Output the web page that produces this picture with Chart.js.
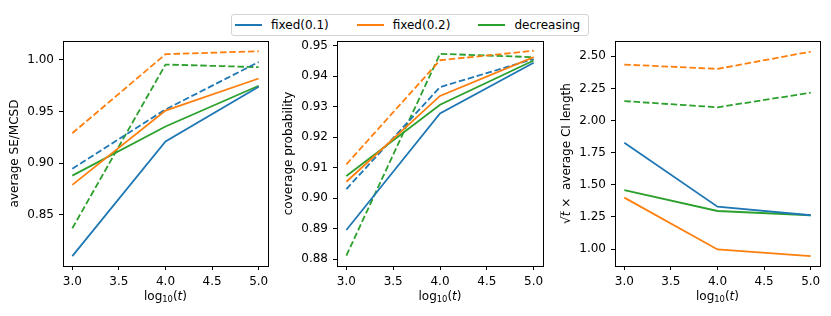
<!DOCTYPE html>
<html>
<head>
<meta charset="utf-8">
<script src="https://cdn.jsdelivr.net/npm/chart.js@4.4.1/dist/chart.umd.min.js"></script>
<style>
  body { margin: 0; background: #fff; width: 831px; height: 316px; position: relative; overflow: hidden; font-family: "DejaVu Sans", sans-serif; }
  .panel { position: absolute; top: 0; height: 316px; }
  #legend { position: absolute; left: 231px; top: 14px; width: 356px; height: 20px; border: 1px solid #d4d4d4; border-radius: 3px; font-size: 12px; background: #fff; }
  .item { position: absolute; top: 0; height: 20px; line-height: 20px; white-space: nowrap; color: #000; }
  .swatch { display: inline-block; width: 27px; height: 0; border-top: 2px solid; vertical-align: middle; margin-right: 9px; position: relative; top: -1px; }
</style>
</head>
<body>
<div id="legend"></div>
<canvas id="c1" class="panel" style="left:0px" width="280" height="316"></canvas>
<canvas id="c2" class="panel" style="left:280px" width="280" height="316"></canvas>
<canvas id="c3" class="panel" style="left:560px" width="271" height="316"></canvas>
<script>
const logT = [3.0, 4.0, 5.0];
const xTicks = [3.0, 3.5, 4.0, 4.5, 5.0];
const seriesNames = ["fixed(0.1)", "fixed(0.2)", "decreasing"];
const seriesColors = ["#1f77b4", "#ff7f0e", "#2ca02c"];

// left panel: average SE / MCSD (solid and dashed variants)
const seFixed01 = [0.810, 0.921, 0.974];
const seFixed02 = [0.879, 0.951, 0.982];
const seDecr = [0.888, 0.9355, 0.975];
const seFixed01Dash = [0.8946, 0.952, 0.998];
const seFixed02Dash = [0.929, 1.0055, 1.0084];
const seDecrDash = [0.837, 0.9955, 0.993];
const seTicks = [0.85, 0.90, 0.95, 1.00];

// middle panel: coverage probability
const covFixed01 = [0.8896, 0.9278, 0.9444];
const covFixed02 = [0.9054, 0.9335, 0.9462];
const covDecr = [0.9073, 0.9306, 0.9451];
const covFixed01Dash = [0.903, 0.9364, 0.9456];
const covFixed02Dash = [0.9111, 0.9452, 0.9483];
const covDecrDash = [0.8812, 0.9473, 0.9462];
const covTicks = [0.88, 0.89, 0.90, 0.91, 0.92, 0.93, 0.94, 0.95];

// right panel: sqrt(t) x average CI length (no dashed fixed(0.1) line)
const ciFixed01 = [1.8275, 1.33, 1.263];
const ciFixed02 = [1.40, 0.997, 0.945];
const ciDecr = [1.459, 1.296, 1.263];
const ciFixed02Dash = [2.4357, 2.402, 2.536];
const ciDecrDash = [2.1516, 2.103, 2.2167];
const ciTicks = [1.00, 1.25, 1.50, 1.75, 2.00, 2.25, 2.50];

const FONT = '"DejaVu Sans", sans-serif';
const FS = 12;

// legend
const legend = document.getElementById("legend");
seriesNames.forEach((name, i) => {
  const d = document.createElement("div");
  d.className = "item";
  d.style.left = (3 + i * 121.7) + "px";
  d.innerHTML = '<span class="swatch" style="border-color:' + seriesColors[i] + '"></span>' + name;
  legend.appendChild(d);
});

function segFont(s) {
  const size = s.sub ? FS * 0.7 : FS;
  return (s.it ? "italic " : "") + size + "px " + FONT;
}

function drawRich(ctx, segs, cx, cy, rotate) {
  ctx.save();
  ctx.translate(cx, cy);
  if (rotate) ctx.rotate(-Math.PI / 2);
  ctx.textBaseline = "middle";
  ctx.textAlign = "left";
  ctx.fillStyle = "#000";
  let total = 0;
  const widths = segs.map(s => { ctx.font = segFont(s); const w = ctx.measureText(s.t).width; total += w; return w; });
  let x = -total / 2;
  segs.forEach((s, i) => {
    ctx.font = segFont(s);
    ctx.fillText(s.t, x, s.sub ? 3 : 0);
    if (s.over) {
      ctx.strokeStyle = "#000";
      ctx.lineWidth = 0.9;
      ctx.beginPath();
      ctx.moveTo(x - 0.5, -6.5);
      ctx.lineTo(x + widths[i] + 0.5, -6.5);
      ctx.stroke();
    }
    x += widths[i];
  });
  ctx.restore();
}

const xTitle = [{ t: "log" }, { t: "10", sub: true }, { t: "(" }, { t: "t", it: true }, { t: ")" }];

function makePanel(id, solid, dashed, yTicks, yMin, yMax, yTitle, yWidth, rightPad) {
  const datasets = [];
  solid.forEach((vals, i) => {
    datasets.push({
      label: seriesNames[i],
      data: logT.map((x, k) => ({ x: x, y: vals[k] })),
      borderColor: seriesColors[i], borderWidth: 1.8, pointRadius: 0, fill: false, tension: 0
    });
  });
  dashed.forEach((vals, i) => {
    if (!vals) return;
    datasets.push({
      label: seriesNames[i] + " (dashed)",
      data: logT.map((x, k) => ({ x: x, y: vals[k] })),
      borderColor: seriesColors[i], borderWidth: 1.8, borderDash: [6.5, 2.8], pointRadius: 0, fill: false, tension: 0
    });
  });

  const deco = {
    id: "deco",
    afterDraw(chart) {
      const ctx = chart.ctx;
      const a = chart.chartArea;
      ctx.save();
      ctx.strokeStyle = "#000";
      ctx.lineWidth = 1;
      ctx.strokeRect(Math.round(a.left) + 0.5, Math.round(a.top) + 0.5, Math.round(a.right - a.left), Math.round(a.bottom - a.top));
      ctx.restore();
      drawRich(ctx, xTitle, (a.left + a.right) / 2, a.bottom + 31, false);
      drawRich(ctx, yTitle, a.left - 48.5, (a.top + a.bottom) / 2, true);
    }
  };

  const axisGrid = { drawOnChartArea: false, color: "#000", tickLength: 4, lineWidth: 1 };
  const tickFont = { family: FONT, size: FS };

  return new Chart(document.getElementById(id), {
    type: "line",
    data: { datasets: datasets },
    options: {
      responsive: false, animation: false, devicePixelRatio: 1,
      layout: { padding: { top: 41, right: rightPad, left: 0, bottom: 0 } },
      plugins: { legend: { display: false }, tooltip: { enabled: false } },
      scales: {
        x: {
          type: "linear", min: 2.9, max: 5.1,
          afterBuildTicks: s => { s.ticks = xTicks.map(v => ({ value: v })); },
          afterFit: s => { s.height = 50; },
          grid: axisGrid, border: { display: false },
          ticks: { color: "#000", font: tickFont, padding: 5, autoSkip: false, maxRotation: 0, callback: v => v.toFixed(1) }
        },
        y: {
          type: "linear", min: yMin, max: yMax,
          afterBuildTicks: s => { s.ticks = yTicks.map(v => ({ value: v })); },
          afterFit: s => { s.width = yWidth; },
          grid: axisGrid, border: { display: false },
          ticks: { color: "#000", font: tickFont, padding: 5, autoSkip: false, callback: v => v.toFixed(2) }
        }
      }
    },
    plugins: [deco]
  });
}

makePanel("c1", [seFixed01, seFixed02, seDecr], [seFixed01Dash, seFixed02Dash, seDecrDash],
  seTicks, 0.8005, 1.0183, [{ t: "average SE/MCSD" }], 63, 12);
makePanel("c2", [covFixed01, covFixed02, covDecr], [covFixed01Dash, covFixed02Dash, covDecrDash],
  covTicks, 0.8778, 0.9515, [{ t: "coverage probability" }], 57, 17);
makePanel("c3", [ciFixed01, ciFixed02, ciDecr], [null, ciFixed02Dash, ciDecrDash],
  ciTicks, 0.868, 2.619, [{ t: "√" }, { t: "t", it: true, over: true }, { t: " ×  average CI length" }], 55, 11);
</script>
</body>
</html>
